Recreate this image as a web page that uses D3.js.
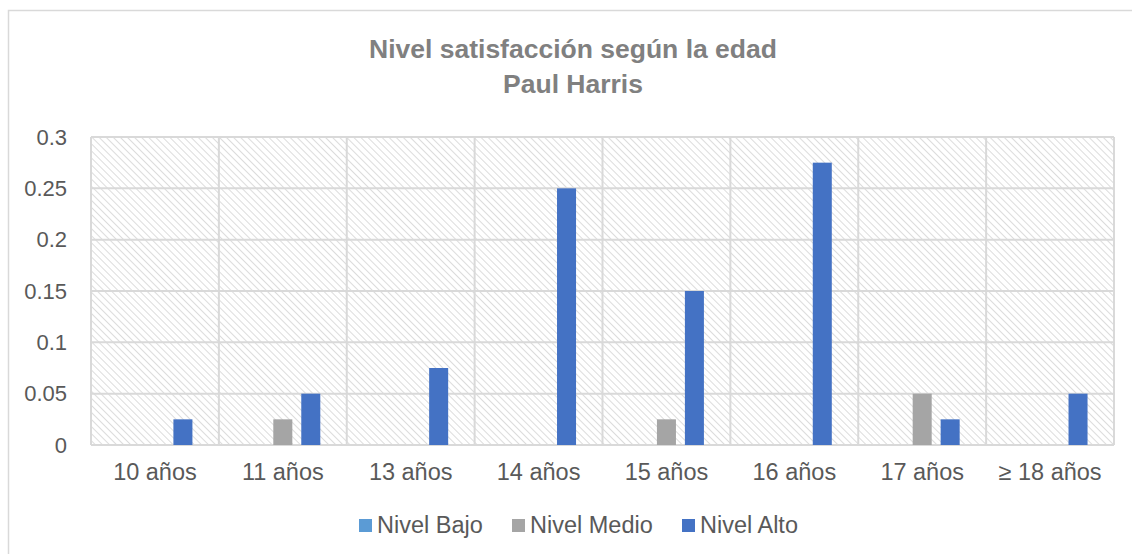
<!DOCTYPE html>
<html>
<head>
<meta charset="utf-8">
<script src="https://cdn.jsdelivr.net/npm/d3@7"></script>
<style>
  body { margin: 0; background: #fff; }
  text { font-family: "Liberation Sans", Arial, sans-serif; }
</style>
</head>
<body>
<script>

var categories = ["10 años", "11 años", "13 años", "14 años", "15 años", "16 años", "17 años", "≥ 18 años"];
var seriesNames = ["Nivel Bajo", "Nivel Medio", "Nivel Alto"];
var bajo  = [0, 0, 0, 0, 0, 0, 0, 0];
var medio = [0, 0.025, 0, 0, 0.025, 0, 0.05, 0];
var alto  = [0.025, 0.05, 0.075, 0.25, 0.15, 0.275, 0.025, 0.05];
var yTicks = [0, 0.05, 0.1, 0.15, 0.2, 0.25, 0.3];
var colors = ["#5b9bd5", "#a5a5a5", "#4472c4"];

var width = 1132, height = 554;
var margin = {left: 91, right: 18, top: 137, bottom: 109};
var innerW = width - margin.left - margin.right;
var innerH = height - margin.top - margin.bottom;

var svg = d3.select("body").append("svg").attr("width", width).attr("height", height);

// hatch pattern for plot background
var defs = svg.append("defs");
var pat = defs.append("pattern")
    .attr("id", "hatch")
    .attr("patternUnits", "userSpaceOnUse")
    .attr("width", 5).attr("height", 5)
    .attr("patternTransform", "rotate(-45)");
pat.append("rect").attr("width", 5).attr("height", 5).attr("fill", "#fff");
pat.append("line")
    .attr("x1", 0).attr("y1", 0).attr("x2", 0).attr("y2", 5)
    .attr("stroke", "#dcdcdc").attr("stroke-width", 2);

// outer chart border
svg.append("rect")
    .attr("x", 8.5).attr("y", 10.5)
    .attr("width", 1130).attr("height", 560)
    .attr("fill", "none").attr("stroke", "#d9d9d9").attr("stroke-width", 1.5);

// title
var title = svg.append("text")
    .attr("text-anchor", "middle")
    .attr("font-size", 26.5).attr("font-weight", "bold").attr("fill", "#808080");
title.append("tspan").attr("x", 573).attr("y", 58).text("Nivel satisfacción según la edad");
title.append("tspan").attr("x", 573).attr("y", 93).text("Paul Harris");

var chartGroup = svg.append("g")
    .attr("transform", "translate(" + margin.left + "," + margin.top + ")");

//SCALES
var xScale = d3.scaleBand().domain(categories).range([0, innerW]);
var xSub = d3.scaleBand().domain(seriesNames)
    .range([0, xScale.bandwidth()])
    .paddingInner(0.32).paddingOuter(0.946);
var yScale = d3.scaleLinear().domain([0, 0.3]).range([innerH, 0]);

// background
chartGroup.append("rect")
    .attr("width", innerW).attr("height", innerH)
    .attr("fill", "url(#hatch)");

// gridlines
chartGroup.selectAll(".hgrid").data(yTicks).enter().append("line")
    .attr("x1", 0).attr("x2", innerW)
    .attr("y1", function(d){return yScale(d);})
    .attr("y2", function(d){return yScale(d);})
    .attr("stroke", "#d9d9d9").attr("stroke-width", 2);

var vlines = d3.range(categories.length + 1).map(function(i){
    return i < categories.length ? xScale(categories[i]) : innerW;
});
chartGroup.selectAll(".vgrid").data(vlines).enter().append("line")
    .attr("x1", function(d){return d;}).attr("x2", function(d){return d;})
    .attr("y1", 0).attr("y2", innerH)
    .attr("stroke", "#d9d9d9").attr("stroke-width", 2);

// BARS
var data = categories.map(function(c, i){
    return {cat: c, values: [bajo[i], medio[i], alto[i]]};
});

var groups = chartGroup.selectAll(".grp").data(data).enter().append("g")
    .attr("transform", function(d){return "translate(" + xScale(d.cat) + ",0)";});

groups.selectAll("rect").data(function(d){
    return d.values.map(function(v, j){return {name: seriesNames[j], value: v, j: j};});
}).enter().append("rect")
    .attr("x", function(d){return xSub(d.name);})
    .attr("width", xSub.bandwidth())
    .attr("y", function(d){return yScale(d.value);})
    .attr("height", function(d){return innerH - yScale(d.value);})
    .attr("fill", function(d){return colors[d.j];});

//AXIS
var yAxis = d3.axisLeft(yScale).tickValues(yTicks).tickSize(0).tickPadding(24)
    .tickFormat(function(d){return d3.format("")(+d.toFixed(3));});
var xAxis = d3.axisBottom(xScale).tickSize(0).tickPadding(18);

var yg = chartGroup.append("g").call(yAxis);
yg.select(".domain").remove();
yg.selectAll("text").attr("font-size", 22).attr("fill", "#595959")
    .attr("font-family", "Liberation Sans, Arial, sans-serif");

var xg = chartGroup.append("g").attr("transform", "translate(0," + innerH + ")").call(xAxis);
xg.select(".domain").remove();
xg.selectAll("text").attr("font-size", 23.5).attr("fill", "#595959")
    .attr("font-family", "Liberation Sans, Arial, sans-serif");

// LEGEND
var legendX = [359, 512, 682];
var legend = svg.append("g");
seriesNames.forEach(function(name, i){
    var g = legend.append("g").attr("transform", "translate(" + legendX[i] + ",519)");
    g.append("rect").attr("width", 13).attr("height", 13).attr("fill", colors[i]);
    g.append("text").attr("x", 18).attr("y", 14)
        .attr("font-size", 23.5).attr("fill", "#595959")
        .text(name);
});

</script>
</body>
</html>
